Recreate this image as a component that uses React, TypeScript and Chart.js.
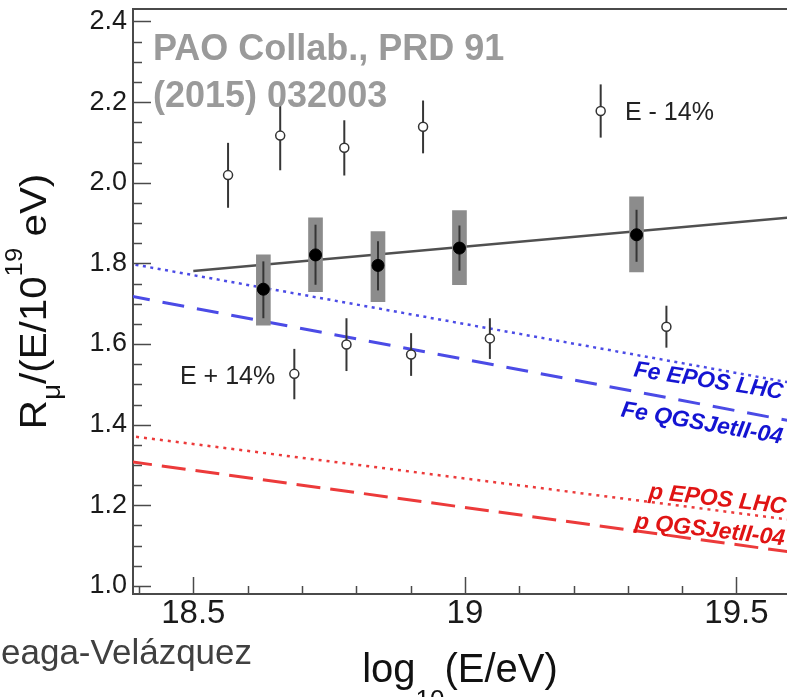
import React, { useEffect, useRef } from "react";
import { Chart, registerables } from "chart.js";

Chart.register(...registerables);

// ---------- data ----------
const energyMeasured = [18.629, 18.725, 18.84, 18.99, 19.316];
const rmuMeasured = [1.736, 1.821, 1.795, 1.838, 1.871];
const statLow = [1.664, 1.747, 1.733, 1.782, 1.804];
const statHigh = [1.805, 1.896, 1.855, 1.894, 1.933];
const sysLow = [1.647, 1.73, 1.705, 1.747, 1.779];
const sysHigh = [1.821, 1.913, 1.879, 1.931, 1.965];

const energyMinus14 = [18.564, 18.66, 18.778, 18.923, 19.25];
const rmuMinus14 = [2.019, 2.117, 2.087, 2.139, 2.178];
const minus14Low = [1.938, 2.031, 2.018, 2.073, 2.112];
const minus14High = [2.099, 2.199, 2.155, 2.204, 2.244];

const energyPlus14 = [18.686, 18.782, 18.901, 19.046, 19.371];
const rmuPlus14 = [1.526, 1.599, 1.574, 1.614, 1.643];
const plus14Low = [1.463, 1.533, 1.521, 1.563, 1.591];
const plus14High = [1.588, 1.664, 1.627, 1.664, 1.695];

const fitEnergy = [18.5, 19.6];
const fitRmu = [1.781, 1.914];

const modelEnergy = [18.38, 19.6];
const feEposRmu = [1.8, 1.504];
const feQgsRmu = [1.72, 1.409];
const pEposRmu = [1.3725, 1.164];
const pQgsRmu = [1.309, 1.084];

const modelLabels = ["Fe EPOS LHC", "Fe QGSJetII-04", "p EPOS LHC", "p QGSJetII-04"];
const modelLabelX = [19.4466, 19.4343, 19.4636, 19.4497];
const modelLabelY = [1.4921, 1.3867, 1.1987, 1.1221];
const modelLabelAngle = [8.7, 9.7, 6.4, 6.6];

const shiftLabels = ["E - 14%", "E + 14%"];
const shiftLabelX = [19.2947, 18.4755];
const shiftLabelY = [2.1556, 1.5008];

const refLines = ["PAO Collab., PRD 91", "(2015) 032003"];
const refX = 18.4258;
const refY = [2.3044, 2.1878];

const creditText = "eaga-Velázquez";

const xMajorTicks = [18.5, 19, 19.5];
const xTickLabels = ["18.5", "19", "19.5"];
const yMajorTicks = [1.0, 1.2, 1.4, 1.6, 1.8, 2.0, 2.2, 2.4];
const yTickLabels = ["1.0", "1.2", "1.4", "1.6", "1.8", "2.0", "2.2", "2.4"];

const xMin = 18.389;
const xMax = 19.593;
const yMin = 0.98;
const yMax = 2.431;

// ---------- styles ----------
const FONT = '"Liberation Sans", Arial, Helvetica, sans-serif';
const BLUE_LINE = "#4b4be6";
const BLUE_TEXT = "#1414d2";
const RED_LINE = "#ec3a3a";
const RED_TEXT = "#e01414";
const modelLabelColors = [BLUE_TEXT, BLUE_TEXT, RED_TEXT, RED_TEXT];

function labelFor(value: number, majors: number[], labels: string[]) {
  const i = majors.findIndex((m) => Math.abs(m - value) < 1e-6);
  return i >= 0 ? labels[i] : "";
}

const pts = (xs: number[], ys: number[]) => xs.map((x, i) => ({ x, y: ys[i] }));

const BOX_INDEX = 5;

const decorPlugin = {
  id: "decor",
  afterDatasetDraw(chart: any, args: any) {
    if (args.index !== BOX_INDEX) return;
    const ctx = chart.ctx;
    const xs = chart.scales.x;
    const ys = chart.scales.y;
    ctx.save();
    ctx.strokeStyle = "#363636";
    ctx.lineWidth = 2;
    const bars = (ex: number[], lo: number[], hi: number[]) => {
      ex.forEach((e, i) => {
        const px = xs.getPixelForValue(e);
        ctx.beginPath();
        ctx.moveTo(px, ys.getPixelForValue(lo[i]));
        ctx.lineTo(px, ys.getPixelForValue(hi[i]));
        ctx.stroke();
      });
    };
    bars(energyMeasured, statLow, statHigh);
    bars(energyMinus14, minus14Low, minus14High);
    bars(energyPlus14, plus14Low, plus14High);
    ctx.restore();
  },
  afterDraw(chart: any) {
    const ctx = chart.ctx;
    const area = chart.chartArea;
    const xs = chart.scales.x;
    const ys = chart.scales.y;
    ctx.save();
    // frame top
    ctx.strokeStyle = "#4a4a4a";
    ctx.lineWidth = 2;
    ctx.beginPath();
    ctx.moveTo(area.left, area.top);
    ctx.lineTo(area.right, area.top);
    ctx.stroke();
    // inward ticks
    ctx.lineWidth = 1.5;
    ys.ticks.forEach((t: any) => {
      const py = Math.round(ys.getPixelForValue(t.value)) + 0.5;
      const len = t.label ? 18 : 9;
      ctx.beginPath();
      ctx.moveTo(area.left, py);
      ctx.lineTo(area.left + len, py);
      ctx.stroke();
    });
    xs.ticks.forEach((t: any) => {
      const px = Math.round(xs.getPixelForValue(t.value)) + 0.5;
      const len = t.label ? 17 : 8;
      ctx.beginPath();
      ctx.moveTo(px, area.bottom);
      ctx.lineTo(px, area.bottom - len);
      ctx.stroke();
    });

    // reference title
    ctx.fillStyle = "#9a9a9a";
    ctx.font = `bold 36px ${FONT}`;
    ctx.textAlign = "left";
    ctx.textBaseline = "alphabetic";
    refLines.forEach((s, i) => {
      ctx.fillText(s, xs.getPixelForValue(refX), ys.getPixelForValue(refY[i]));
    });

    // shift labels
    ctx.fillStyle = "#222";
    ctx.font = `25px ${FONT}`;
    shiftLabels.forEach((s, i) => {
      ctx.fillText(s, xs.getPixelForValue(shiftLabelX[i]), ys.getPixelForValue(shiftLabelY[i]));
    });

    // model labels
    ctx.font = `italic bold 23px ${FONT}`;
    ctx.textAlign = "center";
    modelLabels.forEach((s, i) => {
      ctx.save();
      ctx.translate(xs.getPixelForValue(modelLabelX[i]), ys.getPixelForValue(modelLabelY[i]));
      ctx.rotate((modelLabelAngle[i] * Math.PI) / 180);
      ctx.fillStyle = modelLabelColors[i];
      ctx.fillText(s, 0, 0);
      ctx.restore();
    });

    ctx.fillStyle = "#111";
    ctx.textAlign = "left";
    const drawSeq = (parts: { t: string; f: string; dy: number }[], cx: number, by: number) => {
      let w = 0;
      parts.forEach((p) => {
        ctx.font = p.f;
        w += ctx.measureText(p.t).width;
      });
      let x = cx - w / 2;
      parts.forEach((p) => {
        ctx.font = p.f;
        ctx.fillText(p.t, x, by + p.dy);
        x += ctx.measureText(p.t).width;
      });
    };

    // x title: log10(E/eV)
    drawSeq(
      [
        { t: "log", f: `40px ${FONT}`, dy: 0 },
        { t: "10", f: `26px ${FONT}`, dy: 26 },
        { t: "(E/eV)", f: `40px ${FONT}`, dy: 0 },
      ],
      (area.left + area.right) / 2,
      area.bottom + 88
    );

    // y title: R_mu/(E/10^19 eV)
    ctx.save();
    ctx.translate(46, (area.top + area.bottom) / 2);
    ctx.rotate(-Math.PI / 2);
    ctx.scale(1.12, 1);
    drawSeq(
      [
        { t: "R", f: `36px ${FONT}`, dy: 0 },
        { t: "μ", f: `25px ${FONT}`, dy: 14 },
        { t: "/(E/10", f: `36px ${FONT}`, dy: 0 },
        { t: "19", f: `23px ${FONT}`, dy: -24 },
        { t: " eV)", f: `36px ${FONT}`, dy: 0 },
      ],
      0,
      0
    );
    ctx.restore();

    // credit
    ctx.fillStyle = "#404040";
    ctx.font = `35px ${FONT}`;
    ctx.textAlign = "left";
    ctx.fillText(creditText, 1, area.bottom + 70);
    ctx.restore();
  },
};

export default function App() {
  const ref = useRef<HTMLCanvasElement>(null);
  useEffect(() => {
    const canvas = ref.current;
    if (!canvas) return;
    Chart.defaults.font.family = FONT;
    const chart = new Chart(canvas, {
      type: "scatter",
      data: {
        datasets: [
          {
            type: "line",
            label: "Fe EPOS LHC",
            data: pts(modelEnergy, feEposRmu),
            borderColor: BLUE_LINE,
            borderWidth: 2.5,
            borderDash: [3, 4.5],
            pointRadius: 0,
            order: 10,
          },
          {
            type: "line",
            label: "Fe QGSJetII-04",
            data: pts(modelEnergy, feQgsRmu),
            borderColor: BLUE_LINE,
            borderWidth: 3,
            borderDash: [22, 13],
            pointRadius: 0,
            order: 10,
          },
          {
            type: "line",
            label: "p EPOS LHC",
            data: pts(modelEnergy, pEposRmu),
            borderColor: RED_LINE,
            borderWidth: 2.5,
            borderDash: [3, 5],
            pointRadius: 0,
            order: 10,
          },
          {
            type: "line",
            label: "p QGSJetII-04",
            data: pts(modelEnergy, pQgsRmu),
            borderColor: RED_LINE,
            borderWidth: 3,
            borderDash: [24, 10],
            pointRadius: 0,
            order: 10,
          },
          {
            type: "line",
            label: "fit",
            data: pts(fitEnergy, fitRmu),
            borderColor: "#505050",
            borderWidth: 2.5,
            pointRadius: 0,
            order: 9,
          },
          {
            type: "bar",
            label: "systematic",
            data: energyMeasured.map((x, i) => ({ x, y: [sysLow[i], sysHigh[i]] })) as any,
            backgroundColor: "#8c8c8c",
            borderWidth: 0,
            barThickness: 14,
            order: 8,
          } as any,
          {
            type: "scatter",
            label: "E - 14%",
            data: pts(energyMinus14, rmuMinus14),
            pointRadius: 4.5,
            pointBackgroundColor: "#ffffff",
            pointBorderColor: "#333333",
            pointBorderWidth: 1.5,
            showLine: false,
            order: 2,
          },
          {
            type: "scatter",
            label: "E + 14%",
            data: pts(energyPlus14, rmuPlus14),
            pointRadius: 4.5,
            pointBackgroundColor: "#ffffff",
            pointBorderColor: "#333333",
            pointBorderWidth: 1.5,
            showLine: false,
            order: 2,
          },
          {
            type: "scatter",
            label: "Auger",
            data: pts(energyMeasured, rmuMeasured),
            pointRadius: 6,
            pointBackgroundColor: "#000000",
            pointBorderColor: "#000000",
            pointBorderWidth: 1,
            showLine: false,
            order: 1,
          },
        ],
      },
      options: {
        responsive: false,
        devicePixelRatio: 1,
        animation: false,
        layout: { autoPadding: false, padding: { top: 9, left: 0, right: 0, bottom: 0 } },
        plugins: { legend: { display: false }, tooltip: { enabled: false } },
        scales: {
          x: {
            type: "linear",
            min: xMin,
            max: xMax,
            offset: false,
            grid: { display: false, drawTicks: false },
            border: { display: true, color: "#4a4a4a", width: 2 },
            ticks: {
              stepSize: 0.1,
              autoSkip: false,
              includeBounds: false,
              maxRotation: 0,
              minRotation: 0,
              padding: 0,
              color: "#1a1a1a",
              font: { size: 33, family: FONT },
              callback: (v: any) => labelFor(Number(v), xMajorTicks, xTickLabels),
            },
            afterFit: (s: any) => {
              s.height = 103;
              s.paddingLeft = 0;
              s.paddingRight = 0;
            },
          },
          y: {
            type: "linear",
            min: yMin,
            max: yMax,
            grid: { display: false, drawTicks: false },
            border: { display: true, color: "#4a4a4a", width: 2 },
            ticks: {
              stepSize: 0.05,
              autoSkip: false,
              includeBounds: false,
              padding: 6,
              color: "#1a1a1a",
              font: { size: 27, family: FONT },
              callback: (v: any) => labelFor(Number(v), yMajorTicks, yTickLabels),
            },
            afterFit: (s: any) => {
              s.width = 133;
              s.paddingTop = 0;
              s.paddingBottom = 0;
            },
          },
        },
      } as any,
      plugins: [decorPlugin],
    });
    return () => chart.destroy();
  }, []);
  return (
    <div style={{ position: "absolute", left: 0, top: 0, width: 787, height: 697, background: "#fff" }}>
      <canvas ref={ref} width={787} height={697} style={{ display: "block", width: 787, height: 697 }} />
    </div>
  );
}
